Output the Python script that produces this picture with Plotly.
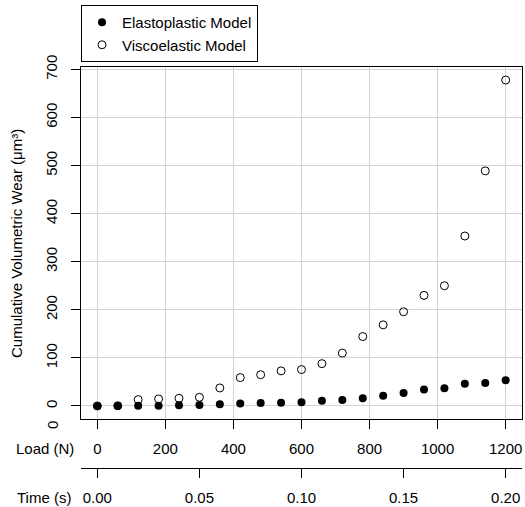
import plotly.graph_objects as go

# ---- data ----
load_n = [0, 60, 120, 180, 240, 300, 360, 420, 480, 540, 600,
          660, 720, 780, 840, 900, 960, 1020, 1080, 1140, 1200]
elastoplastic = [0, 0, 0.7, 0.7, 1.4, 2, 3.5, 4.9, 6.3, 6.9, 7.6,
                 11, 12.5, 16, 21.5, 27, 34, 37, 46, 48, 53.5]
viscoelastic = [0, 0.5, 13.2, 14.6, 16, 18, 37.5, 59, 65, 73, 75.7,
                88, 110, 144.4, 168.8, 196, 230, 250, 353.5, 489, 678]
load_ticks = [0, 200, 400, 600, 800, 1000, 1200]
time_ticks = [0.00, 0.05, 0.10, 0.15, 0.20]
wear_ticks = [0, 100, 200, 300, 400, 500, 600, 700]
seconds_per_newton = 0.20 / 1200

# ---- layout geometry ----
W, H = 525, 507
ML, MR, MT, MB = 81, 3, 67, 0
PW, PH = W - ML - MR, H - MT - MB
PLOT_BOTTOM = 419


def px(x):
    return (x - ML) / PW


def py(y):
    return (H - MB - y) / PH


FONT = "Liberation Sans, Arial, Helvetica, sans-serif"
FS = 15

xr = [-0.04 * 1200, 1200 * 1.04]
yr = [-0.04 * 678, 678 * 1.04]

fig = go.Figure()
fig.add_trace(go.Scatter(
    x=load_n, y=viscoelastic, mode="markers", name="Viscoelastic Model",
    marker=dict(symbol="circle-open", size=8, color="black", line=dict(width=1)),
    legendrank=2,
))
fig.add_trace(go.Scatter(
    x=load_n, y=elastoplastic, mode="markers", name="Elastoplastic Model",
    marker=dict(symbol="circle", size=8, color="black"),
    legendrank=1,
))
# time axis carrier (no visible marks)
fig.add_trace(go.Scatter(
    x=time_ticks, y=[None] * len(time_ticks), xaxis="x2", yaxis="y",
    mode="markers", showlegend=False, hoverinfo="skip",
))

fig.update_layout(
    width=W, height=H,
    margin=dict(l=ML, r=MR, t=MT, b=MB, pad=0, autoexpand=False),
    plot_bgcolor="white", paper_bgcolor="white",
    font=dict(family=FONT, size=FS, color="black"),
    xaxis=dict(
        range=xr, tickvals=load_ticks, ticks="outside", ticklen=9,
        tickcolor="black", showline=True, linecolor="black", linewidth=1,
        mirror=True, showgrid=True, gridcolor="#d3d3d3", zeroline=False,
        anchor="y", tickfont=dict(size=FS), automargin=False,
        ticklabelstandoff=7,
    ),
    xaxis2=dict(
        range=[v * seconds_per_newton for v in xr], tickvals=time_ticks,
        tickformat=".2f", ticks="outside", ticklen=9, tickcolor="black",
        showline=True, linecolor="black", linewidth=1, showgrid=False,
        zeroline=False, overlaying="x", anchor="free", position=py(468),
        side="bottom", tickfont=dict(size=FS), automargin=False,
        ticklabelstandoff=7,
    ),
    yaxis=dict(
        domain=[py(PLOT_BOTTOM), 1], range=yr, tickvals=wear_ticks,
        tickangle=-90, ticks="outside", ticklen=9, tickcolor="black",
        showline=True, linecolor="black", linewidth=1, mirror=True,
        showgrid=True, gridcolor="#d3d3d3", zeroline=False,
        tickfont=dict(size=FS), automargin=False, ticklabelstandoff=8,
    ),
    legend=dict(
        x=0, y=py(5), xanchor="left", yanchor="top",
        bordercolor="black", borderwidth=1, bgcolor="white",
        font=dict(size=FS), itemwidth=30, tracegroupgap=0,
    ),
    showlegend=True,
)

annotations = [
    dict(text="Cumulative Volumetric Wear (μm³)", x=px(17), y=py(244),
         textangle=-90),
    dict(text="Load (N)", x=px(45), y=py(448)),
    dict(text="Time (s)", x=px(44), y=py(497)),
    dict(text="0", x=px(52), y=py(425), textangle=-90),
]
for a in annotations:
    fig.add_annotation(xref="paper", yref="paper", showarrow=False,
                       xanchor="center", yanchor="middle",
                       font=dict(size=FS, family=FONT, color="black"), **a)

fig.write_html("out.html",
               config={"displayModeBar": False},
               post_script="document.body.style.margin='0px';")
